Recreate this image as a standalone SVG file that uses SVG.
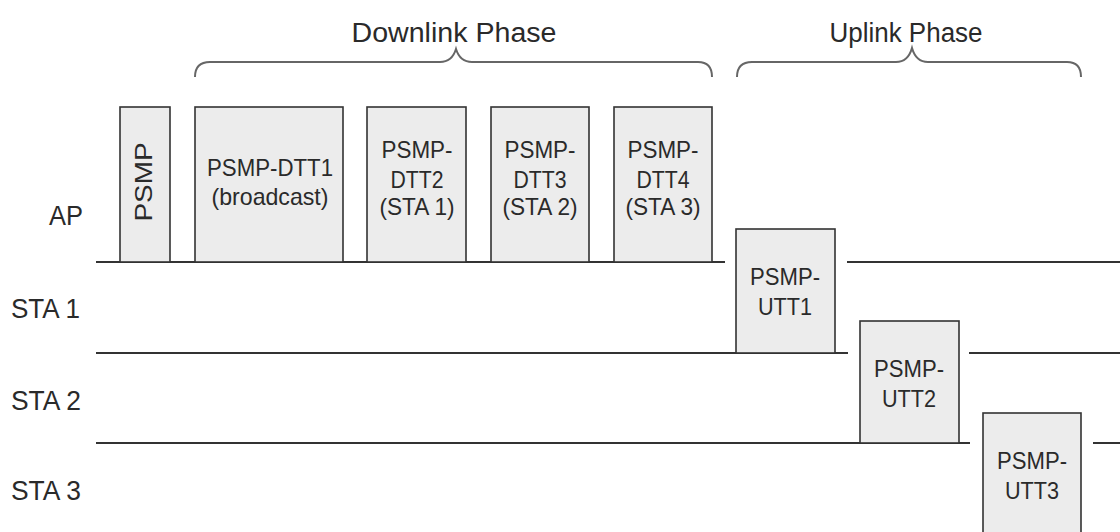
<svg xmlns="http://www.w3.org/2000/svg" width="1120" height="532" viewBox="0 0 1120 532">
<style>
  text { font-family: "Liberation Sans", Arial, sans-serif; fill: #2a2a2a; }
  .lbl { font-size: 27px; }
  .box { fill: #ececec; stroke: #333; stroke-width: 1.6; }
  .bt { font-size: 24px; text-anchor: middle; }
  .line { stroke: #333; stroke-width: 2; fill: none; }
  .brace { stroke: #666; stroke-width: 2; fill: none; }
</style>
<rect width="1120" height="532" fill="#fff"/>
<g id="phases">
  <text class="lbl" x="454" y="42" text-anchor="middle" font-size="30" textLength="205" lengthAdjust="spacingAndGlyphs">Downlink Phase</text>
  <path class="brace" d="M195 77 Q195 62 210 62 L440 62 Q452 62 456 49 Q460 62 472 62 L698 62 Q712 62 712 77"/>
  <text class="lbl" x="906" y="42" text-anchor="middle" font-size="30" textLength="153" lengthAdjust="spacingAndGlyphs">Uplink Phase</text>
  <path class="brace" d="M737 77 Q737 62 752 62 L896 62 Q908 62 912 48 Q916 62 928 62 L1067 62 Q1081 62 1081 77"/>
</g>
<g id="labels">
  <text class="lbl" x="49" y="225" textLength="34" lengthAdjust="spacingAndGlyphs">AP</text>
  <text class="lbl" x="11" y="318" textLength="69" lengthAdjust="spacingAndGlyphs">STA 1</text>
  <text class="lbl" x="11" y="410" textLength="70" lengthAdjust="spacingAndGlyphs">STA 2</text>
  <text class="lbl" x="11" y="500" textLength="70" lengthAdjust="spacingAndGlyphs">STA 3</text>
</g>
<g id="timelines">
  <path class="line" d="M96 262 H725 M847 262 H1120"/>
  <path class="line" d="M96 353 H848 M969 353 H1120"/>
  <path class="line" d="M96 443 H970 M1093 443 H1120"/>
</g>
<g id="psmp">
  <rect class="box" x="120" y="107" width="50" height="155"/>
  <text class="bt" transform="translate(152 182) rotate(-90)" font-size="23" textLength="79" lengthAdjust="spacingAndGlyphs">PSMP</text>
</g>
<g id="dtt1">
  <rect class="box" x="195" y="107" width="148" height="155"/>
  <text class="bt" x="270" y="176" textLength="126" lengthAdjust="spacingAndGlyphs">PSMP-DTT1</text>
  <text class="bt" x="270" y="205" textLength="117" lengthAdjust="spacingAndGlyphs">(broadcast)</text>
</g>
<g id="dtt2">
  <rect class="box" x="367" y="107" width="99" height="155"/>
  <text class="bt" x="417" y="158" textLength="71" lengthAdjust="spacingAndGlyphs">PSMP-</text>
  <text class="bt" x="417" y="188" textLength="53" lengthAdjust="spacingAndGlyphs">DTT2</text>
  <text class="bt" x="417" y="215" textLength="75" lengthAdjust="spacingAndGlyphs">(STA 1)</text>
</g>
<g id="dtt3">
  <rect class="box" x="491" y="107" width="98" height="155"/>
  <text class="bt" x="540" y="158" textLength="71" lengthAdjust="spacingAndGlyphs">PSMP-</text>
  <text class="bt" x="540" y="188" textLength="53" lengthAdjust="spacingAndGlyphs">DTT3</text>
  <text class="bt" x="540" y="215" textLength="75" lengthAdjust="spacingAndGlyphs">(STA 2)</text>
</g>
<g id="dtt4">
  <rect class="box" x="614" y="107" width="98" height="155"/>
  <text class="bt" x="663" y="158" textLength="71" lengthAdjust="spacingAndGlyphs">PSMP-</text>
  <text class="bt" x="663" y="188" textLength="53" lengthAdjust="spacingAndGlyphs">DTT4</text>
  <text class="bt" x="663" y="215" textLength="75" lengthAdjust="spacingAndGlyphs">(STA 3)</text>
</g>
<g id="utt1">
  <rect class="box" x="736" y="229" width="99" height="124"/>
  <text class="bt" x="785" y="285" textLength="70" lengthAdjust="spacingAndGlyphs">PSMP-</text>
  <text class="bt" x="785" y="315" textLength="54" lengthAdjust="spacingAndGlyphs">UTT1</text>
</g>
<g id="utt2">
  <rect class="box" x="860" y="321" width="99" height="122"/>
  <text class="bt" x="909" y="377" textLength="70" lengthAdjust="spacingAndGlyphs">PSMP-</text>
  <text class="bt" x="909" y="407" textLength="54" lengthAdjust="spacingAndGlyphs">UTT2</text>
</g>
<g id="utt3">
  <rect class="box" x="983" y="413" width="98" height="130"/>
  <text class="bt" x="1032" y="469" textLength="70" lengthAdjust="spacingAndGlyphs">PSMP-</text>
  <text class="bt" x="1032" y="499" textLength="54" lengthAdjust="spacingAndGlyphs">UTT3</text>
</g>
</svg>
